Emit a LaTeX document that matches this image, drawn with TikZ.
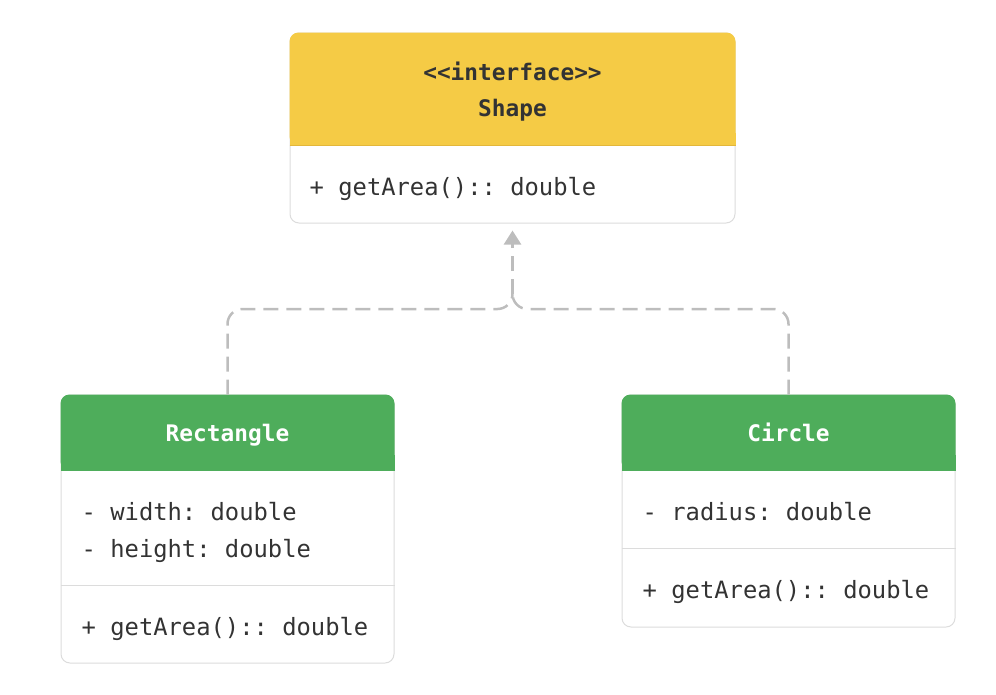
\documentclass[tikz,border=0pt]{standalone}
\usepackage{fontspec}
\setmonofont{DejaVu Sans Mono}
\usetikzlibrary{calc, arrows.meta, positioning}
\definecolor{ifyellow}{HTML}{F5CB45}
\definecolor{ifedge}{HTML}{E3B73A}
\definecolor{clgreen}{HTML}{4EAD5B}
\definecolor{boxline}{HTML}{DCDCDC}
\definecolor{depline}{HTML}{BDBDBD}
\definecolor{txt}{HTML}{333333}
\tikzset{
  classbox/.style={draw=boxline, line width=1pt, fill=white, rounded corners=9pt, inner sep=0pt},
  member/.style={anchor=west, font=\ttfamily\fontsize{23.8}{28}\selectfont, text=txt, inner sep=0pt,
    text height=1em, text depth=0em, yshift=-4pt},
  title/.style={font=\ttfamily\bfseries\fontsize{22.8}{28}\selectfont, inner sep=0pt,
    text height=1em, text depth=0em, yshift=-3pt},
  dep/.style={depline, line width=2.5pt, dash pattern=on 15pt off 8pt, rounded corners=15pt},
}

\begin{document}
\begin{tikzpicture}[x=1pt,y=-1pt]
        \useasboundingbox (0,0) rectangle (996,694);
        % class boxes
        \node[classbox, minimum width=445pt, minimum height=190pt] (shape) at (512.5,128) {};
        \node[classbox, minimum width=333pt, minimum height=268pt] (rect) at (227.5,529) {};
        \node[classbox, minimum width=333pt, minimum height=232pt] (circ) at (788.5,511) {};
        % headers
        \fill[ifyellow, rounded corners=9pt] (shape.north west) rectangle ($(shape.north east)+(0,113)$);
        \fill[ifyellow] ($(shape.north west)+(0,100)$) rectangle ($(shape.north east)+(0,113)$);
        \draw[ifedge, line width=1pt] ($(shape.north west)+(0,113)$) -- ($(shape.north east)+(0,113)$);
        \foreach \c in {rect,circ} {
            \fill[clgreen, rounded corners=9pt] (\c.north west) rectangle ($(\c.north east)+(0,76)$);
            \fill[clgreen] ($(\c.north west)+(0,60)$) rectangle ($(\c.north east)+(0,76)$);
        }
        % separators
        \draw[boxline, line width=1pt] ($(rect.north west)+(0,191)$) -- ($(rect.north east)+(0,191)$);
        \draw[boxline, line width=1pt] ($(circ.north west)+(0,154)$) -- ($(circ.north east)+(0,154)$);
        % texts
        \node[title, text=txt] (shapestereo) at ($(shape.north)+(0,40)$) {<<interface>>};
        \node[title, text=txt] (shapename) at ($(shape.north)+(0,76)$) {Shape};
        \node[member] (shapeop) at ($(shape.north west)+(20,154)$) {+ getArea():: double};
        \node[title, text=white] (rectname) at ($(rect.north)+(0,39)$) {Rectangle};
        \node[member] (rectw) at ($(rect.north west)+(21,117)$) {- width: double};
        \node[member] (recth) at ($(rect.north west)+(21,154)$) {- height: double};
        \node[member] (rectop) at ($(rect.north west)+(21,232)$) {+ getArea():: double};
        \node[title, text=white] (circname) at ($(circ.north)+(0,39)$) {Circle};
        \node[member] (circr) at ($(circ.north west)+(21,117)$) {- radius: double};
        \node[member] (circop) at ($(circ.north west)+(21,195)$) {+ getArea():: double};
        % realization
        \coordinate (hub) at (shape.south |- 0,309);
        \coordinate (hubtop) at (shape.south |- 0,294);
        \draw[dep] (rect.north) |- (hub) -- (hubtop);
        \draw[dep] (circ.north) |- (hub) -- (hubtop);
        \draw[dep, -{Triangle[width=17pt,length=14pt]}, shorten >=7pt] (hubtop) -- (shape.south);
\end{tikzpicture}
\end{document}
